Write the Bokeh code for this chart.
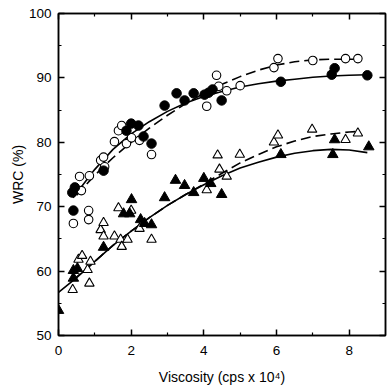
from bokeh.plotting import figure
from bokeh.models import LinearAxis, FixedTicker, Range1d
from bokeh.embed import file_html
from bokeh.resources import INLINE

# ---- data ----
fc_x = [0.38, 0.45, 0.41, 1.24, 1.87, 2.0, 2.2, 2.34, 2.56, 2.92, 3.25, 3.47, 3.72, 4.02, 4.13, 4.24, 4.49, 6.12, 7.52, 7.6, 8.5]
fc_y = [72.2, 73.0, 69.4, 75.6, 81.8, 82.9, 82.6, 80.9, 79.8, 85.7, 87.6, 86.5, 87.6, 87.4, 87.7, 88.2, 86.5, 89.4, 90.5, 91.5, 90.4]

oc_x = [0.41, 0.58, 0.63, 0.83, 0.83, 0.85, 1.16, 1.24, 1.27, 1.54, 1.65, 1.74, 1.87, 2.01, 2.23, 2.56, 4.08, 4.35, 4.41, 4.63, 5.0, 5.93, 6.04, 7.0, 7.9, 8.24]
oc_y = [67.4, 74.7, 72.5, 68.0, 69.4, 74.8, 77.2, 77.7, 76.2, 80.1, 81.8, 82.6, 79.8, 80.7, 80.3, 78.1, 85.6, 90.4, 88.7, 88.0, 88.8, 91.6, 93.0, 92.7, 93.0, 93.0]

ft_x = [0.0, 0.41, 0.41, 0.52, 1.24, 1.79, 1.96, 2.01, 2.26, 2.37, 2.56, 2.92, 3.22, 3.47, 3.72, 4.0, 4.19, 4.49, 6.12, 7.55, 7.6, 8.54]
ft_y = [53.9, 58.9, 60.1, 60.4, 63.7, 68.9, 68.9, 71.1, 68.0, 67.4, 67.2, 71.4, 74.1, 73.3, 72.2, 74.4, 73.6, 71.9, 78.1, 78.1, 80.4, 79.3]

ot_x = [0.39, 0.55, 0.65, 0.8, 0.85, 0.88, 1.16, 1.24, 1.24, 1.54, 1.65, 1.71, 1.74, 1.9, 2.0, 2.23, 2.56, 4.08, 4.38, 4.43, 4.63, 4.99, 5.93, 6.04, 6.98, 7.9, 8.24]
ot_y = [57.1, 61.8, 62.4, 60.2, 58.1, 61.5, 66.4, 67.5, 65.4, 65.4, 69.8, 64.9, 63.8, 64.9, 69.4, 66.6, 64.9, 72.6, 78.0, 75.8, 74.7, 78.1, 80.0, 81.1, 82.0, 80.4, 81.4]

# fitted curves
fc_fit_x = [0.4, 1.0, 1.5, 2.0, 2.5, 3.0, 3.5, 4.0, 4.5, 5.0, 5.5, 6.0, 6.5, 7.0, 7.5, 8.0, 8.5]
fc_fit_y = [71.4, 75.8, 78.9, 81.3, 83.2, 84.8, 86.1, 87.1, 87.9, 88.6, 89.1, 89.5, 89.8, 90.1, 90.3, 90.4, 90.5]

oc_fit_x = [0.5, 1.0, 1.5, 2.0, 2.5, 3.0, 3.5, 4.0, 4.5, 5.0, 5.5, 6.0, 6.5, 7.0, 7.5, 8.0, 8.3]
oc_fit_y = [71.8, 74.9, 77.6, 80.0, 82.2, 84.2, 86.0, 87.6, 89.0, 90.2, 91.2, 92.0, 92.5, 92.8, 92.9, 92.9, 92.9]

ft_fit_x = [0.0, 0.5, 1.0, 1.5, 2.0, 2.5, 3.0, 3.5, 4.0, 4.5, 5.0, 5.5, 6.0, 6.5, 7.0, 7.5, 8.0, 8.5]
ft_fit_y = [56.7, 59.0, 61.5, 64.0, 66.2, 68.3, 70.2, 71.9, 73.4, 74.8, 76.0, 76.9, 77.7, 78.3, 78.7, 78.9, 78.8, 78.4]

ot_fit_x = [0.4, 1.0, 1.5, 2.0, 2.5, 3.0, 3.5, 4.0, 4.5, 5.0, 5.5, 6.0, 6.5, 7.0, 7.5, 8.0, 8.3]
ot_fit_y = [58.6, 61.5, 64.0, 66.2, 68.3, 70.2, 71.9, 73.5, 75.2, 76.8, 78.1, 79.3, 80.2, 80.9, 81.3, 81.6, 81.7]

x_ticks = [0, 2, 4, 6, 8]
x_minor = [1, 3, 5, 7]
y_ticks = [50, 60, 70, 80, 90, 100]
y_minor = [55, 65, 75, 85, 95]

FONT = "Liberation Sans"

p = figure(width=387, height=388, output_backend="svg", toolbar_location=None,
           x_range=Range1d(0, 9), y_range=Range1d(50, 100),
           min_border_left=58, min_border_right=2, min_border_top=13, min_border_bottom=53)
p.grid.visible = False
p.outline_line_color = "black"
p.outline_line_width = 1.5
p.background_fill_color = "white"
p.border_fill_color = "white"


def style_axis(ax, labels=True):
    ax.axis_line_color = "black"
    ax.axis_line_width = 1.5
    ax.major_tick_in = 6
    ax.major_tick_out = 0
    ax.minor_tick_in = 3
    ax.minor_tick_out = 0
    ax.major_tick_line_width = 1.5
    ax.minor_tick_line_width = 1.2
    ax.major_tick_line_color = "black"
    ax.minor_tick_line_color = "black"
    if labels:
        ax.major_label_text_font = FONT
        ax.major_label_text_font_size = "13.5px"
        ax.major_label_text_color = "black"
        ax.axis_label_text_font = FONT
        ax.axis_label_text_font_size = "14px"
        ax.axis_label_text_font_style = "normal"
        ax.axis_label_text_color = "black"
    else:
        ax.major_label_text_font_size = "0px"
        ax.major_label_text_color = None
        ax.major_label_standoff = 0


p.xaxis.ticker = FixedTicker(ticks=x_ticks, minor_ticks=x_minor)
p.yaxis.ticker = FixedTicker(ticks=y_ticks, minor_ticks=y_minor)
style_axis(p.xaxis[0])
style_axis(p.yaxis[0])
p.xaxis.axis_label = "Viscosity (cps x 10⁴)"
p.yaxis.axis_label = "WRC (%)"
p.xaxis.major_label_standoff = 10
p.yaxis.major_label_standoff = 7
p.xaxis.axis_label_standoff = 11
p.yaxis.axis_label_standoff = 0

top = LinearAxis(ticker=FixedTicker(ticks=x_ticks, minor_ticks=x_minor))
right = LinearAxis(ticker=FixedTicker(ticks=y_ticks, minor_ticks=y_minor))
style_axis(top, labels=False)
style_axis(right, labels=False)
p.add_layout(top, "above")
p.add_layout(right, "right")

# curves
p.line(fc_fit_x, fc_fit_y, line_color="black", line_width=1.6)
p.line(oc_fit_x, oc_fit_y, line_color="black", line_width=1.6, line_dash="10 5")
p.line(ft_fit_x, ft_fit_y, line_color="black", line_width=1.6)
p.line(ot_fit_x, ot_fit_y, line_color="black", line_width=1.6, line_dash="10 5")

# markers
p.scatter(oc_x, oc_y, marker="circle", size=8.5, fill_color="white", line_color="black", line_width=1.1)
p.scatter(ot_x, ot_y, marker="triangle", size=9.5, fill_color="white", line_color="black", line_width=1.1)
p.scatter(fc_x, fc_y, marker="circle", size=9.5, fill_color="black", line_color="black")
p.scatter(ft_x, ft_y, marker="triangle", size=10.5, fill_color="black", line_color="black")

open("out.html", "w").write(file_html(p, INLINE))
